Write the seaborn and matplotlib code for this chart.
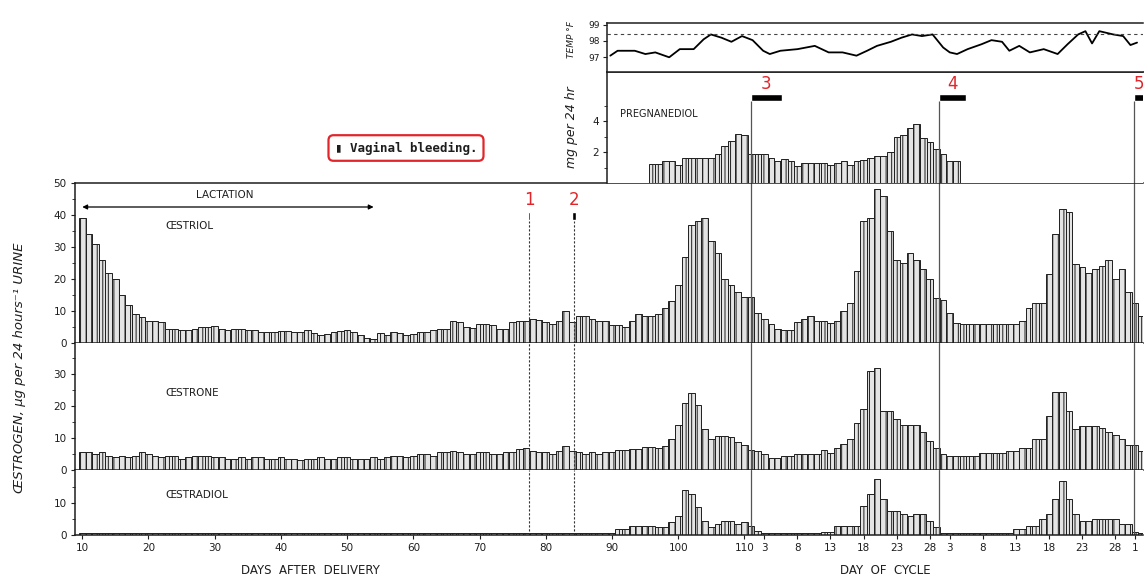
"""
Urinary oestrogens and pregnanediol after delivery - redrawn from a scanned figure.
"""
import matplotlib
matplotlib.use("Agg")
import matplotlib.pyplot as plt
import pandas as pd
import seaborn as sns

# -----------------------------
# DATA
# -----------------------------
DAYS = list(range(10, 171))

OESTRIOL = [
    39, 34, 31, 26, 22, 20, 15, 12, 9, 8, 7, 7, 6.5,
    4.5, 4.5, 4, 4, 4.5, 5, 5, 5.3, 4.5, 4, 4.3, 4.3, 4, 4, 3.5, 3.3, 3.5,
    3.8, 3.8, 3.3, 3.5, 4, 3, 2.5, 2.8, 3.5, 3.8, 4, 3.5, 2.5, 1.5, 1.2, 3, 2.5, 3.5,
    3, 2.5, 2.8, 3.3, 3.5, 4, 4.3, 4.5, 6.8, 6.5, 5, 4.8, 6, 5.8, 5.5, 4.5, 4.5,
    6.5, 7, 7, 7.5, 7.2, 6.5, 6, 7, 10, 6.5, 8.5, 8.5, 7.5, 7, 7, 5.5, 5.5, 5,
    7, 9, 8.5, 8.5, 9, 11, 13, 18, 27, 37, 38, 39, 32, 28, 20, 18, 16, 14.5,
    14.5, 9.5, 7.5, 6, 4.5, 4.2, 4.2, 6.5, 7.5, 8.5, 7, 6.8, 6.2, 6.8, 10,
    12.5, 22.5, 38, 39, 48, 46, 35, 26, 25, 28, 26, 23, 20, 14, 13.5,
    9.5, 6.3, 5.8, 5.8, 5.8, 5.8, 5.8, 5.8, 5.8, 6, 6, 7, 11, 12.5, 12.5,
    21.6, 34, 42, 41, 24.7, 23.7, 22, 23, 24, 26, 20, 23, 16, 12.5, 8.4,
]

OESTRONE = [
    5.5, 5.5, 5, 5.5, 4.5, 4, 4.5, 4, 4.5, 5.5,
    5, 4.5, 4, 4.5, 4.5, 3.5, 4, 4.5, 4.5, 4.5,
    4, 4, 3.5, 3.5, 4, 3.5, 4, 4, 3.5, 3.5,
    4, 3.5, 3.5, 3, 3.5, 3.5, 4, 3.5, 3.5, 4,
    4, 3.5, 3.5, 3.5, 4, 3.5, 4, 4.5, 4.5, 4,
    4.5, 5, 5, 4.5, 5.5, 5.5, 6, 5.5, 5, 5,
    5.5, 5.5, 5, 5, 5.5, 5.5, 6.5, 7, 6, 5.5,
    5.5, 5, 6, 7.5, 6, 5.5, 5, 5.5, 5, 5.5, 5.5,
    6.3, 6.3, 6.6, 6.6, 7.3, 7.3, 7, 7.5, 9.7, 14, 21, 24, 20.4, 12.8, 9.7,
    10.7, 10.5, 10.2, 8.7, 7.8,
    6.3, 5.8, 4.9, 3.9, 3.9, 4.4, 4.4, 4.9, 4.9, 4.9, 5, 6.3, 5.3, 6.8, 8,
    9.7, 14.6, 19, 31, 32, 18.4, 18.4, 16, 14, 14, 14, 12, 9.2, 6.8, 4.9,
    4.4, 4.4, 4.4, 4.4, 4.4, 5.3, 5.3, 5.3, 5.3, 5.8, 5.8, 7, 7, 9.7, 9.7,
    17, 24.3, 24.3, 18.4, 12.8, 13.6, 13.6, 13.6, 13, 12, 11, 9.7, 7.8, 7.8, 6,
]

OESTRADIOL = [
    0.5, 0.6, 0.5, 0.5, 0.6, 0.5, 0.5, 0.6, 0.5,
    0.5, 0.6, 0.5, 0.5, 0.5, 0.6, 0.5, 0.5, 0.5,
    0.6, 0.5, 0.5, 0.6, 0.5, 0.5, 0.5, 0.6, 0.5,
    0.5, 0.5, 0.6, 0.5, 0.5, 0.6, 0.5, 0.5, 0.5,
    0.6, 0.5, 0.5, 0.5, 0.6, 0.5, 0.5, 0.6, 0.5,
    0.5, 0.6, 0.5, 0.5, 0.5, 0.6, 0.5, 0.5, 0.5,
    0.5, 0.5, 0.6, 0.5, 0.5, 0.6, 0.5, 0.5, 0.6,
    0.5, 0.6, 0.5, 0.5, 0.6, 0.5, 0.5, 0.5, 0.6,
    0.5, 0.5, 0.6, 0.5, 0.5, 0.6, 0.5, 0.5, 0.6,
    1.9, 1.9, 2.9, 2.9, 2.9, 2.9, 2.4, 2.4, 4.2, 6, 13.9, 12.8, 8.6, 4.5, 2.4,
    3.4, 4.3, 4.3, 3.4, 4, 2.9, 1.4, 0.5,
    0.5, 0.5, 0.5, 0.6, 0.5, 0.5, 0.6, 0.5,
    1, 1, 2.7, 2.7, 2.7, 2.7, 9, 12.8, 17.5, 11.3, 7.6, 7.6, 6.6, 6, 6.6, 6.6,
    4.5, 2.4,
    0.5, 0.6, 0.5, 0.5, 0.6, 0.5, 0.5, 0.6, 0.5, 0.5, 0.6,
    1.9, 1.9, 2.9, 2.9, 5, 6.6, 11.3, 17, 11.3, 6.6, 4.5, 4.5, 5, 5, 5, 5,
    3.4, 3.4, 0.8, 0.5,
]

PREG_DAYS = list(range(96, 143))
PREGNANEDIOL = [
    1.25, 1.25, 1.45, 1.4, 1.2, 1.6, 1.6, 1.6, 1.6, 1.6, 1.9, 2.4, 2.7, 3.2, 3.1,
    1.9, 1.85, 1.9, 1.6, 1.4, 1.55, 1.4, 1.1, 1.3, 1.3, 1.3, 1.3, 1.2, 1.3, 1.4,
    1.2, 1.4, 1.5, 1.6, 1.75, 1.75, 2.0,
    3.0, 3.1, 3.6, 3.8, 2.9, 2.65, 2.2, 1.9, 1.4, 1.4,
]

TEMP_DAYS = [89.7, 90.8, 93.4, 95.0, 96.5, 98.6, 100.2, 102.3, 103.8, 104.9,
             106.5, 108.0, 109.6, 111.2, 112.8, 113.8, 115.4, 118.0, 120.6, 122.7,
             124.8, 126.9, 128.5, 130.0, 132.1, 133.7, 135.3, 136.8, 138.4, 140.0,
             141.0, 142.1, 143.7, 145.8, 147.3, 148.9, 150.0, 151.5, 153.1, 155.2,
             157.3, 158.8, 160.4, 161.5, 162.5, 163.6, 165.7, 167.2, 168.3, 169.3]
TEMP_F = [97.1, 97.4, 97.4, 97.2, 97.3, 97.0, 97.5, 97.5, 98.1, 98.4,
          98.2, 97.95, 98.3, 98.05, 97.4, 97.2, 97.4, 97.5, 97.7, 97.3,
          97.3, 97.1, 97.4, 97.7, 97.95, 98.2, 98.4, 98.3, 98.4, 97.6,
          97.3, 97.2, 97.5, 97.8, 98.05, 97.95, 97.4, 97.7, 97.3, 97.5,
          97.2, 97.8, 98.4, 98.6, 97.85, 98.6, 98.4, 98.3, 97.75, 97.9]
NORMAL_TEMP = 98.4

BLEED_START = [77.3, 84.0, 111.0, 139.4, 168.8]
BLEED_LEN = [0.35, 0.6, 4.6, 4.0, 1.5]
BLEED_NAMES = ["1", "2", "3", "4", "5"]
LACTATION = [10, 54]

TICK_DAYS = [10, 20, 30, 40, 50, 60, 70, 80, 90, 100, 110,
             113, 118, 123, 128, 133, 138, 141, 146, 151, 156, 161, 166, 169]
TICK_LABELS = ["10", "20", "30", "40", "50", "60", "70", "80", "90", "100", "110",
               "3", "8", "13", "18", "23", "28", "3", "8", "13", "18", "23", "28", "1"]

df = pd.DataFrame({"day": DAYS, "oestriol": OESTRIOL,
                   "oestrone": OESTRONE, "oestradiol": OESTRADIOL})
preg = pd.DataFrame({"day": PREG_DAYS, "mg": PREGNANEDIOL})
temp = pd.DataFrame({"day": TEMP_DAYS, "temp": TEMP_F})

# -----------------------------
# STYLE / LAYOUT
# -----------------------------
sns.set_style("ticks")
plt.rcParams["font.family"] = ["DejaVu Sans"]
plt.rcParams["hatch.linewidth"] = 0.7

INK = "#1e1e1e"
RED = "#e0262b"
W_PX, H_PX = 1144, 579

fig = plt.figure(figsize=(W_PX / 100, H_PX / 100), dpi=100)


def box(x0, y0, x1, y1):
    # pixel box (top-left origin) -> figure fraction rect
    return [x0 / W_PX, 1 - y1 / H_PX, (x1 - x0) / W_PX, (y1 - y0) / H_PX]


ax_e3 = fig.add_axes(box(75, 183, 1143, 343))
ax_e1 = fig.add_axes(box(75, 343, 1143, 470))
ax_e2 = fig.add_axes(box(75, 470, 1143, 535))
ax_pd = fig.add_axes(box(607, 72, 1143, 183))
ax_t = fig.add_axes(box(607, 23, 1143, 72))

bar_kw = dict(native_scale=True, width=1, errorbar=None, color="#e4e4e4",
              saturation=1, edgecolor=INK, linewidth=0.7)

sns.barplot(data=df, x="day", y="oestriol", ax=ax_e3, **bar_kw)
sns.barplot(data=df, x="day", y="oestrone", ax=ax_e1, **bar_kw)
sns.barplot(data=df, x="day", y="oestradiol", ax=ax_e2, **bar_kw)
sns.barplot(data=preg, x="day", y="mg", ax=ax_pd, **bar_kw)

# scanned bars show faint vertical striping inside each column
for ax in (ax_e3, ax_e1, ax_e2, ax_pd):
    for p in ax.patches:
        p.set_hatch("|||")
        p.set_hatchcolor("#6a6a6a") if hasattr(p, "set_hatchcolor") else None

sns.lineplot(data=temp, x="day", y="temp", ax=ax_t, color="black", lw=1.3)
ax_t.axhline(NORMAL_TEMP, color="#444444", lw=0.8, ls=(0, (3, 3)))

main_xlim = (8.9, 170.2)
top_xlim = (89.2, 170.2)
for ax in (ax_e3, ax_e1, ax_e2):
    ax.set_xlim(*main_xlim)
for ax in (ax_pd, ax_t):
    ax.set_xlim(*top_xlim)

ax_e3.set_ylim(0, 50)
ax_e1.set_ylim(0, 39.7)
ax_e2.set_ylim(0, 20.3)
ax_pd.set_ylim(0, 7.2)
ax_t.set_ylim(96.1, 99.1)

ax_e3.set_yticks([0, 10, 20, 30, 40, 50])
ax_e3.set_yticks([5, 15, 25, 35, 45], minor=True)
ax_e1.set_yticks([0, 10, 20, 30])
ax_e1.set_yticks([5, 15, 25, 35], minor=True)
ax_e2.set_yticks([0, 10])
ax_e2.set_yticks([5, 15], minor=True)
ax_pd.set_yticks([2, 4])
ax_pd.set_yticks([1, 3, 5], minor=True)
ax_t.set_yticks([97, 98, 99])

for ax in (ax_e3, ax_e1, ax_e2, ax_pd, ax_t):
    ax.set_xlabel("")
    ax.set_ylabel("")
    ax.spines["right"].set_visible(False)
    for s in ax.spines.values():
        s.set_color(INK)
        s.set_linewidth(1.1)
    ax.tick_params(axis="y", labelsize=7.5, length=3, width=0.8, pad=3, colors=INK)
    ax.tick_params(axis="y", which="minor", length=2, width=0.6, colors=INK)

for ax in (ax_e3, ax_e1, ax_pd, ax_t):
    ax.tick_params(axis="x", bottom=False, labelbottom=False)
ax_e1.spines["top"].set_visible(False)
ax_e2.spines["top"].set_visible(False)
ax_pd.spines["bottom"].set_visible(False)
ax_t.tick_params(axis="y", labelsize=6.5, pad=2)

ax_e2.set_xticks(TICK_DAYS)
ax_e2.set_xticklabels(TICK_LABELS)
ax_e2.tick_params(axis="x", labelsize=7.5, length=3, width=0.8, pad=3, colors=INK)

# -----------------------------
# BLEEDING EPISODES
# -----------------------------
for start, length, name in zip(BLEED_START[:2], BLEED_LEN[:2], BLEED_NAMES[:2]):
    ax_e3.bar(start, 2.4, width=length, bottom=38.4, align="edge", color="black")
    ax_e3.text(start + length / 2, 44.7, name, color=RED, fontsize=12,
               ha="center", va="center")
    ax_e3.vlines(start + length / 2, 0, 38.2, color="#333333", lw=0.8, ls=(0, (2, 1.6)))
    for ax in (ax_e1, ax_e2):
        ax.axvline(start + length / 2, color="#333333", lw=0.8, ls=(0, (2, 1.6)))

for start, length, name in zip(BLEED_START[2:], BLEED_LEN[2:], BLEED_NAMES[2:]):
    ax_pd.bar(start, 0.45, width=length, bottom=5.3, align="edge", color="black")
    ax_pd.text(start + length / 2, 6.4, name, color=RED, fontsize=12,
               ha="center", va="center")
    ax_pd.vlines(start, 0, 5.3, color="#555555", lw=0.9)
    for ax in (ax_e3, ax_e1, ax_e2):
        ax.axvline(start, color="#555555", lw=0.9)

# -----------------------------
# LABELS
# -----------------------------
ax_e3.annotate("", xy=(LACTATION[0], 42.5), xytext=(LACTATION[1], 42.5),
               arrowprops=dict(arrowstyle="<|-|>", color="black", lw=0.9,
                               mutation_scale=7, shrinkA=0, shrinkB=0))
ax_e3.text(sum(LACTATION) / 2 - 0.5, 46.3, "LACTATION", ha="center", va="center",
           fontsize=7.5, color=INK)

ax_e3.text(22.5, 36.6, "ŒSTRIOL", fontsize=7.5, va="center", color=INK)
ax_e1.text(22.5, 24, "ŒSTRONE", fontsize=7.5, va="center", color=INK)
ax_e2.text(22.5, 12.6, "ŒSTRADIOL", fontsize=7.5, va="center", color=INK)
ax_pd.text(91.1, 4.5, "PREGNANEDIOL", fontsize=7, va="center", color=INK)

fig.text(406 / W_PX, 1 - 148 / H_PX, "▮ Vaginal bleeding.", ha="center", va="center",
         fontsize=9, fontweight="bold", family="DejaVu Sans Mono", color=INK,
         bbox=dict(boxstyle="round,pad=0.5,rounding_size=0.4", fc="white",
                   ec=RED, lw=1.6))

fig.text(20 / W_PX, 1 - 368 / H_PX, "ŒSTROGEN, μg per 24 hours⁻¹ URINE", rotation=90,
         ha="center", va="center", fontsize=9.5, style="italic", color=INK)
fig.text(571 / W_PX, 1 - 127 / H_PX, "mg per 24 hr", rotation=90,
         ha="center", va="center", fontsize=9, style="italic", color=INK)
fig.text(571 / W_PX, 1 - 40 / H_PX, "TEMP °F", rotation=90,
         ha="center", va="center", fontsize=6.5, style="italic", color=INK)

fig.text(310 / W_PX, 1 - 571 / H_PX, "DAYS  AFTER  DELIVERY", ha="center", va="center",
         fontsize=8.5, color=INK)
fig.text(885 / W_PX, 1 - 571 / H_PX, "DAY  OF  CYCLE", ha="center", va="center",
         fontsize=8.5, color=INK)

fig.savefig("out.png", dpi=100)
